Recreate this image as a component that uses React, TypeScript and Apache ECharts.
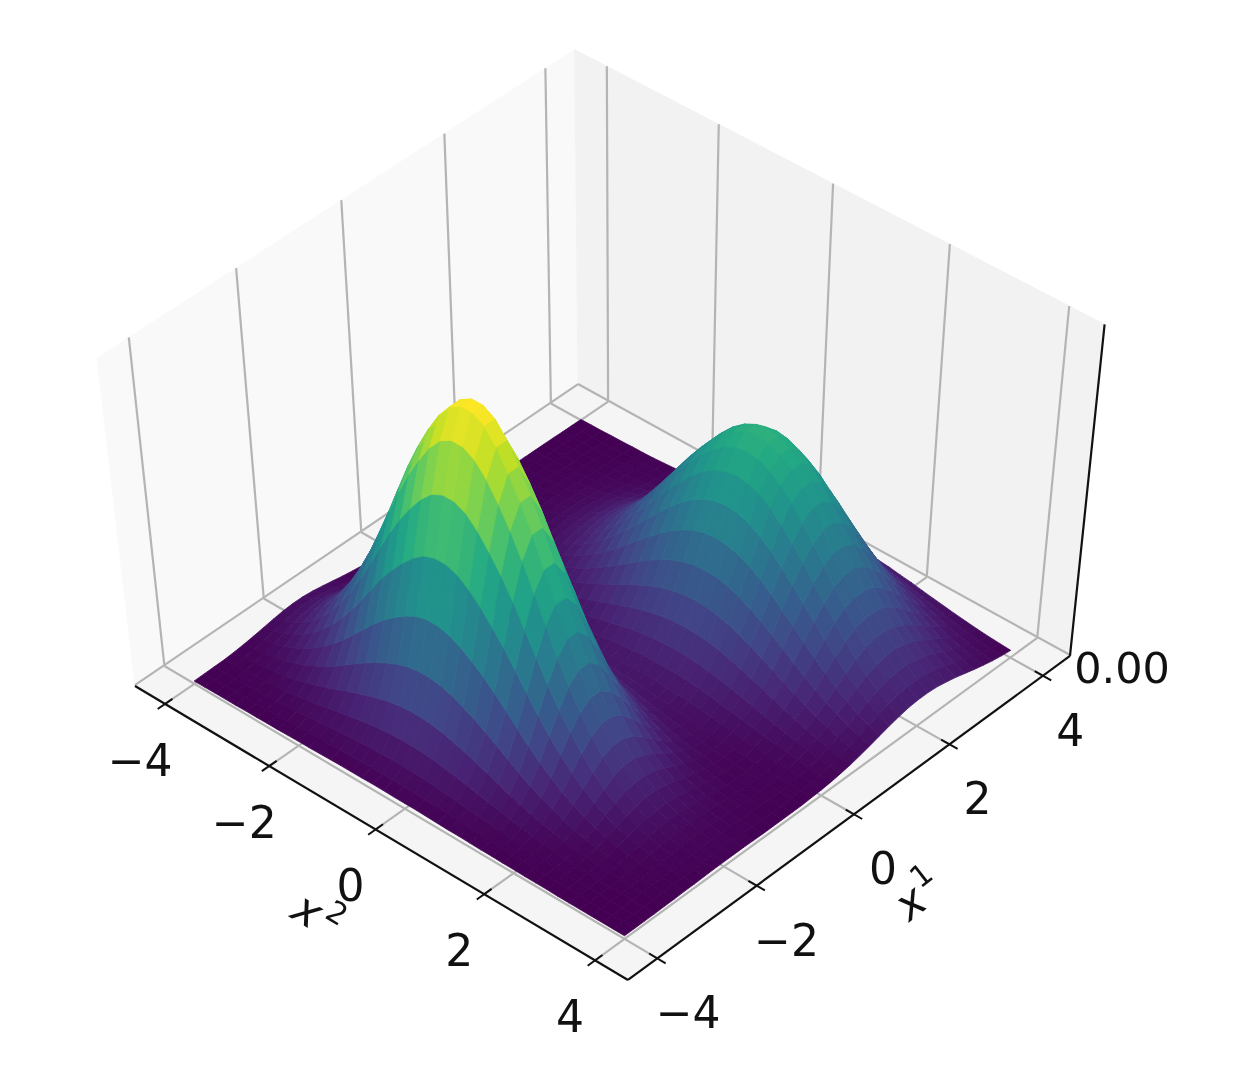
import React, { useEffect, useRef } from "react";
import * as echarts from "echarts";

// Axis contents
const tickValues = [-4, -2, 0, 2, 4];
const zTickLabel = "0.00";
const axisTitleX1 = "x";
const axisSubX1 = "1";
const axisTitleX2 = "x";
const axisSubX2 = "2";

// Surface sampling: x1 and x2 both start at gridStart and advance by gridStep.
const gridStart = -4;
const gridStep = 0.2;
const zTop = 100;

// Heights, in percent of the tallest peak. One row per x1, one column per x2.
const surfaceRows = [
[0,0,.1,.1,.1,.2,.2,.3,.3,.4,.5,.5,.6,.7,.8,.8,.8,.9,.9,.8,.8,.8,.7,.6,.5,.5,.4,.3,.3,.2,.2,.1,.1,.1,0,0,0,0,0,0,0],
[.1,.1,.1,.2,.3,.4,.5,.6,.8,.9,1.1,1.3,1.5,1.6,1.8,1.9,2,2,2,2,1.9,1.8,1.6,1.5,1.3,1.1,.9,.8,.6,.5,.4,.3,.2,.1,.1,.1,.1,0,0,0,0],
[.2,.2,.3,.4,.6,.8,1,1.3,1.7,2,2.4,2.8,3.2,3.6,3.9,4.2,4.4,4.5,4.5,4.4,4.2,3.9,3.6,3.2,2.8,2.4,2,1.7,1.3,1,.8,.6,.4,.3,.2,.2,.1,.1,0,0,0],
[.3,.4,.6,.9,1.2,1.6,2.1,2.7,3.3,4,4.8,5.6,6.4,7.1,7.8,8.3,8.7,8.9,8.9,8.7,8.3,7.8,7.1,6.4,5.6,4.8,4,3.3,2.7,2.1,1.6,1.2,.9,.6,.4,.3,.2,.1,.1,.1,0],
[.6,.8,1.2,1.6,2.2,2.9,3.8,4.9,6,7.3,8.8,10.3,11.7,13,14.2,15.2,15.9,16.3,16.3,15.9,15.2,14.2,13,11.7,10.3,8.8,7.3,6,4.9,3.8,2.9,2.2,1.6,1.2,.8,.6,.4,.3,.2,.1,.1],
[1,1.4,1.9,2.7,3.7,4.9,6.4,8.2,10.1,12.3,14.8,17.3,19.7,21.9,23.8,25.5,26.7,27.3,27.3,26.7,25.5,23.8,21.9,19.7,17.3,14.8,12.3,10.1,8.2,6.4,4.9,3.7,2.7,1.9,1.4,1,.7,.4,.3,.2,.1],
[1.5,2.1,3,4.2,5.7,7.6,9.9,12.6,15.6,19,22.8,26.6,30.4,33.8,36.7,39.2,41.1,42.1,42.1,41.1,39.2,36.7,33.8,30.4,26.6,22.8,19,15.6,12.6,9.9,7.6,5.7,4.2,3,2.1,1.5,1,.7,.4,.3,.2],
[2.1,3,4.2,6,8.1,10.8,14,17.8,22.1,26.9,32.3,37.7,43.1,47.8,52,55.6,58.3,59.6,59.6,58.3,55.6,52,47.8,43.1,37.7,32.3,26.9,22.1,17.8,14,10.8,8.1,6,4.2,3,2.1,1.4,1,.6,.4,.2],
[2.7,3.9,5.5,7.7,10.4,13.9,18.1,23.1,28.6,34.8,41.8,48.8,55.7,61.9,67.3,72,75.5,77.2,77.2,75.5,72,67.3,61.9,55.7,48.8,41.8,34.8,28.6,23.1,18.1,13.9,10.4,7.7,5.5,3.9,2.7,1.9,1.2,.8,.5,.3],
[3.2,4.6,6.5,9.2,12.4,16.6,21.6,27.4,34.1,41.4,49.7,58,66.3,73.7,80.1,85.7,89.8,91.8,91.8,89.8,85.7,80.1,73.7,66.3,58,49.7,41.4,34.1,27.4,21.6,16.6,12.4,9.2,6.5,4.6,3.2,2.2,1.5,.9,.6,.4],
[3.5,5,7.1,10,13.6,18.1,23.5,29.9,37.2,45.2,54.2,63.3,72.3,80.3,87.3,93.4,97.9,100,100,97.9,93.4,87.3,80.3,72.3,63.3,54.2,45.2,37.2,29.9,23.5,18.1,13.6,10,7.1,5,3.5,2.4,1.6,1,.7,.4],
[3.5,5,7.1,10,13.6,18.1,23.5,29.9,37.2,45.2,54.2,63.3,72.3,80.3,87.3,93.4,97.9,100,100,97.9,93.4,87.3,80.3,72.3,63.3,54.2,45.2,37.2,29.9,23.5,18.1,13.6,10,7.1,5,3.5,2.4,1.6,1,.7,.4],
[3.2,4.6,6.5,9.2,12.4,16.6,21.6,27.4,34.1,41.4,49.7,58,66.3,73.7,80.1,85.7,89.8,91.8,91.8,89.8,85.7,80.1,73.7,66.3,58,49.7,41.4,34.1,27.4,21.6,16.6,12.4,9.2,6.5,4.6,3.2,2.2,1.5,.9,.6,.4],
[2.7,3.9,5.5,7.7,10.4,13.9,18.1,23.1,28.6,34.8,41.8,48.8,55.7,61.9,67.3,72,75.5,77.2,77.2,75.5,72,67.3,61.9,55.7,48.8,41.8,34.8,28.6,23.1,18.1,13.9,10.4,7.7,5.5,3.9,2.7,1.9,1.2,.8,.5,.3],
[2.1,3,4.2,6,8.1,10.8,14,17.8,22.1,26.9,32.3,37.7,43.1,47.8,52,55.6,58.3,59.6,59.6,58.3,55.6,52,47.8,43.1,37.7,32.3,26.9,22.1,17.8,14,10.8,8.1,6,4.2,3,2.1,1.4,1,.6,.4,.2],
[1.5,2.1,3,4.2,5.7,7.6,9.9,12.6,15.6,19,22.8,26.6,30.4,33.8,36.8,39.3,41.2,42.2,42.2,41.3,39.4,36.9,34,30.6,26.8,23,19.2,15.8,12.8,10.1,7.8,5.9,4.4,3.1,2.2,1.6,1.1,.7,.5,.3,.2],
[1,1.4,1.9,2.7,3.7,4.9,6.4,8.2,10.2,12.4,14.9,17.3,19.8,22,24,25.7,26.9,27.6,27.6,27,25.8,24.2,22.3,20.2,17.7,15.3,12.8,10.6,8.6,6.8,5.3,4,3,2.2,1.6,1.1,.8,.6,.4,.3,.2],
[.6,.8,1.2,1.6,2.2,3,3.8,4.9,6.1,7.4,8.9,10.4,11.9,13.3,14.5,15.5,16.3,16.7,16.8,16.5,15.8,14.9,13.8,12.6,11.1,9.7,8.2,6.9,5.7,4.6,3.6,2.8,2.2,1.6,1.2,.9,.7,.5,.3,.2,.2],
[.3,.5,.6,.9,1.2,1.7,2.1,2.7,3.4,4.2,5,5.9,6.8,7.6,8.3,8.9,9.5,9.8,9.9,9.9,9.6,9.1,8.6,8,7.2,6.4,5.6,4.8,4.1,3.5,2.9,2.4,1.9,1.5,1.2,.9,.7,.6,.4,.3,.2],
[.2,.2,.3,.5,.6,.9,1.1,1.5,1.8,2.3,2.7,3.3,3.8,4.3,4.8,5.3,5.7,6,6.2,6.4,6.4,6.3,6.2,5.9,5.6,5.2,4.8,4.4,3.9,3.5,3,2.6,2.2,1.9,1.5,1.3,1,.8,.6,.5,.4],
[.1,.1,.2,.3,.3,.5,.6,.8,1.1,1.3,1.7,2,2.4,2.8,3.3,3.7,4.2,4.6,5,5.4,5.6,5.8,6,6,6,5.8,5.6,5.3,5,4.6,4.1,3.6,3.2,2.7,2.3,1.9,1.6,1.2,1,.7,.6],
[0,.1,.1,.2,.2,.3,.4,.6,.8,1,1.4,1.7,2.1,2.6,3.1,3.7,4.3,5,5.6,6.2,6.8,7.2,7.6,7.9,8,8,7.9,7.6,7.2,6.7,6.1,5.5,4.8,4.2,3.5,2.9,2.4,1.9,1.5,1.2,.9],
[0,.1,.1,.2,.2,.3,.4,.6,.9,1.2,1.5,2,2.5,3.2,3.9,4.8,5.7,6.6,7.6,8.5,9.4,10.2,10.9,11.4,11.7,11.8,11.6,11.3,10.7,10,9.2,8.3,7.3,6.3,5.4,4.5,3.7,3,2.3,1.8,1.4],
[0,.1,.1,.2,.3,.4,.5,.8,1.1,1.5,2,2.6,3.4,4.3,5.4,6.6,7.9,9.3,10.7,12.1,13.4,14.6,15.6,16.4,16.8,17,16.8,16.4,15.6,14.6,13.4,12.1,10.7,9.3,7.9,6.6,5.4,4.3,3.4,2.6,2],
[.1,.1,.2,.2,.4,.5,.8,1.1,1.5,2.1,2.8,3.7,4.7,6,7.5,9.1,10.9,12.8,14.8,16.8,18.6,20.3,21.7,22.7,23.4,23.6,23.4,22.7,21.7,20.3,18.6,16.8,14.8,12.8,10.9,9.1,7.5,6,4.7,3.7,2.8],
[.1,.1,.2,.3,.5,.7,1,1.4,2,2.8,3.7,4.9,6.3,8,9.9,12.1,14.5,17,19.6,22.2,24.7,26.9,28.7,30.1,31,31.3,31,30.1,28.7,26.9,24.7,22.2,19.6,17,14.5,12.1,9.9,8,6.3,4.9,3.7],
[.1,.2,.3,.4,.6,.9,1.3,1.8,2.5,3.5,4.7,6.2,7.9,10.1,12.5,15.3,18.4,21.6,24.9,28.2,31.3,34.1,36.4,38.2,39.3,39.7,39.3,38.2,36.4,34.1,31.3,28.2,24.9,21.6,18.4,15.3,12.5,10.1,7.9,6.2,4.7],
[.1,.2,.3,.5,.7,1.1,1.5,2.2,3.1,4.2,5.7,7.4,9.6,12.2,15.1,18.5,22.2,26.1,30,34,37.7,41.1,44,46.1,47.4,47.9,47.4,46.1,44,41.1,37.7,34,30,26.1,22.2,18.5,15.1,12.2,9.6,7.4,5.7],
[.1,.2,.4,.6,.8,1.2,1.8,2.5,3.5,4.9,6.5,8.6,11,14,17.4,21.3,25.6,30,34.6,39.2,43.5,47.4,50.7,53.2,54.6,55.2,54.6,53.2,50.7,47.4,43.5,39.2,34.6,30,25.6,21.3,17.4,14,11,8.6,6.5],
[.2,.3,.4,.6,.9,1.3,1.9,2.8,3.9,5.3,7.2,9.4,12.1,15.4,19.2,23.4,28.1,33,38.1,43.1,47.8,52.1,55.7,58.5,60.1,60.7,60.1,58.5,55.7,52.1,47.8,43.1,38.1,33,28.1,23.4,19.2,15.4,12.1,9.4,7.2],
[.2,.3,.4,.6,1,1.4,2,2.9,4.1,5.6,7.5,9.9,12.7,16.2,20.1,24.5,29.4,34.6,39.9,45.2,50.1,54.6,58.4,61.2,63,63.6,63,61.2,58.4,54.6,50.1,45.2,39.9,34.6,29.4,24.5,20.1,16.2,12.7,9.9,7.5],
[.2,.3,.4,.6,1,1.4,2,2.9,4.1,5.6,7.5,9.9,12.7,16.2,20.1,24.5,29.4,34.6,39.9,45.2,50.1,54.6,58.4,61.2,63,63.6,63,61.2,58.4,54.6,50.1,45.2,39.9,34.6,29.4,24.5,20.1,16.2,12.7,9.9,7.5],
[.2,.3,.4,.6,.9,1.3,1.9,2.8,3.9,5.3,7.2,9.4,12.1,15.4,19.2,23.4,28.1,33,38.1,43.1,47.8,52.1,55.7,58.5,60.1,60.7,60.1,58.5,55.7,52.1,47.8,43.1,38.1,33,28.1,23.4,19.2,15.4,12.1,9.4,7.2],
[.1,.2,.4,.6,.8,1.2,1.8,2.5,3.5,4.9,6.5,8.6,11,14,17.4,21.3,25.6,30,34.6,39.2,43.5,47.4,50.7,53.2,54.6,55.2,54.6,53.2,50.7,47.4,43.5,39.2,34.6,30,25.6,21.3,17.4,14,11,8.6,6.5],
[.1,.2,.3,.5,.7,1.1,1.5,2.2,3.1,4.2,5.7,7.4,9.6,12.2,15.1,18.5,22.2,26.1,30,34,37.7,41.1,44,46.1,47.4,47.9,47.4,46.1,44,41.1,37.7,34,30,26.1,22.2,18.5,15.1,12.2,9.6,7.4,5.7],
[.1,.2,.3,.4,.6,.9,1.3,1.8,2.5,3.5,4.7,6.2,7.9,10.1,12.5,15.3,18.4,21.6,24.9,28.2,31.3,34.1,36.4,38.2,39.3,39.7,39.3,38.2,36.4,34.1,31.3,28.2,24.9,21.6,18.4,15.3,12.5,10.1,7.9,6.2,4.7],
[.1,.1,.2,.3,.5,.7,1,1.4,2,2.8,3.7,4.9,6.3,8,9.9,12.1,14.5,17,19.6,22.2,24.7,26.9,28.7,30.1,31,31.3,31,30.1,28.7,26.9,24.7,22.2,19.6,17,14.5,12.1,9.9,8,6.3,4.9,3.7],
[.1,.1,.2,.2,.4,.5,.8,1.1,1.5,2.1,2.8,3.7,4.7,6,7.5,9.1,10.9,12.8,14.8,16.8,18.6,20.3,21.7,22.7,23.4,23.6,23.4,22.7,21.7,20.3,18.6,16.8,14.8,12.8,10.9,9.1,7.5,6,4.7,3.7,2.8],
[0,.1,.1,.2,.3,.4,.5,.8,1.1,1.5,2,2.6,3.4,4.3,5.4,6.6,7.9,9.3,10.7,12.1,13.4,14.6,15.6,16.4,16.8,17,16.8,16.4,15.6,14.6,13.4,12.1,10.7,9.3,7.9,6.6,5.4,4.3,3.4,2.6,2],
[0,.1,.1,.1,.2,.3,.4,.5,.7,1,1.4,1.8,2.3,2.9,3.7,4.5,5.4,6.3,7.3,8.2,9.1,10,10.6,11.2,11.5,11.6,11.5,11.2,10.6,10,9.1,8.2,7.3,6.3,5.4,4.5,3.7,2.9,2.3,1.8,1.4],
[0,0,0,.1,.1,.2,.2,.3,.5,.7,.9,1.2,1.5,1.9,2.4,2.9,3.5,4.1,4.7,5.4,5.9,6.5,6.9,7.3,7.5,7.6,7.5,7.3,6.9,6.5,5.9,5.4,4.7,4.1,3.5,2.9,2.4,1.9,1.5,1.2,.9],
];

// Colour ramp
const viridis = ["#440154","#482475","#414487","#355f8d","#2a788e","#21918c","#22a884","#44bf70","#7ad151","#bddf26","#fde725"];

const axisHalfRange = 4.585;
const zFloor = 0.01;
const zSpan = 0.95;
const FONT = '"DejaVu Sans", sans-serif';
const GRID = "#b4b4b4";
const AXIS = "#111111";

type P3 = [number, number, number];

// Perspective of the box: s along x1, t along x2, w upwards, each 0..1
function project(s: number, t: number, w: number): [number, number] {
  const d = 1 + 0.04389 * s - 0.04659 * t - 0.072 * w;
  return [
    (468.4 * s + 463.7 * t - 45 * w + 135) / d,
    (-284.1 * s + 248.3 * t - 353.8 * w + 686) / d,
  ];
}
// The box frame sits a few pixels lower toward the right-hand corner.
function projectFrame(s: number, t: number, w: number): [number, number] {
  const p = project(s, t, w);
  return [p[0], p[1] + 4 * s * t];
}
// The surface sits a few pixels lower toward the back and right-hand corners.
function projectSurface(s: number, t: number, w: number): [number, number] {
  const p = project(s, t, w);
  return [p[0], p[1] + 3 * s * (1 - t) + 2 * s * t];
}
const depthOf = (s: number, t: number, w: number) => 1 + 0.04389 * s - 0.04659 * t - 0.072 * w;
const toUnit = (v: number) => (v + axisHalfRange) / (2 * axisHalfRange);
const heightToW = (z: number) => zFloor + (zSpan * z) / zTop;

function hex(c: string) {
  return [parseInt(c.slice(1, 3), 16), parseInt(c.slice(3, 5), 16), parseInt(c.slice(5, 7), 16)];
}
function colorAt(f: number) {
  const p = Math.max(0, Math.min(1, f)) * (viridis.length - 1);
  const i = Math.min(viridis.length - 2, Math.floor(p));
  const a = hex(viridis[i]);
  const b = hex(viridis[i + 1]);
  const k = p - i;
  return `rgb(${a.map((v, n) => Math.round(v + (b[n] - v) * k)).join(",")})`;
}

// Surface facets, far ones first
type Facet = { corners: P3[]; color: string; depth: number };
const facets: Facet[] = [];
for (let i = 0; i < surfaceRows.length - 1; i++) {
  for (let j = 0; j < surfaceRows[i].length - 1; j++) {
    const ids = [[i, j], [i + 1, j], [i + 1, j + 1], [i, j + 1]];
    const corners = ids.map(([a, b]) => [
      toUnit(gridStart + a * gridStep),
      toUnit(gridStart + b * gridStep),
      heightToW(surfaceRows[a][b]),
    ]) as P3[];
    const mean = ids.reduce((sum, [a, b]) => sum + surfaceRows[a][b], 0) / 4;
    const c = corners.reduce((m, p) => [m[0] + p[0] / 4, m[1] + p[1] / 4, m[2] + p[2] / 4], [0, 0, 0]);
    facets.push({ corners, color: colorAt(mean / zTop), depth: depthOf(c[0], c[1], c[2]) });
  }
}
facets.sort((a, b) => b.depth - a.depth);

const panes: { corners: P3[]; color: string }[] = [
  { corners: [[0, 0, 0], [1, 0, 0], [1, 0, 1], [0, 0, 1]], color: "#f9f9f9" },
  { corners: [[1, 0, 0], [1, 1, 0], [1, 1, 1], [1, 0, 1]], color: "#f2f2f2" },
  { corners: [[0, 0, 0], [0, 1, 0], [1, 1, 0], [1, 0, 0]], color: "#f5f5f5" },
];

type Seg = { a: P3; b: P3; color: string; width: number };
const gridSegs: Seg[] = [];
const axisSegs: Seg[] = [];
const tickLen = 0.016;
tickValues.forEach((v) => {
  const u = toUnit(v);
  gridSegs.push({ a: [u, 1, 0], b: [u, 0, 0], color: GRID, width: 2.2 });
  gridSegs.push({ a: [u, 0, 0], b: [u, 0, 1], color: GRID, width: 2.2 });
  gridSegs.push({ a: [0, u, 0], b: [1, u, 0], color: GRID, width: 2.2 });
  gridSegs.push({ a: [1, u, 0], b: [1, u, 1], color: GRID, width: 2.2 });
  axisSegs.push({ a: [-tickLen, u, 0], b: [tickLen, u, 0], color: AXIS, width: 2 });
  axisSegs.push({ a: [u, 1 - tickLen, 0], b: [u, 1 + tickLen, 0], color: AXIS, width: 2 });
});
gridSegs.push({ a: [0, 0, 0.003], b: [1, 0, 0.003], color: GRID, width: 2.2 });
gridSegs.push({ a: [1, 0, 0.003], b: [1, 1, 0.003], color: GRID, width: 2.2 });
axisSegs.push({ a: [0, 0, 0], b: [0, 1, 0], color: AXIS, width: 2.2 });
axisSegs.push({ a: [0, 1, 0], b: [1, 1, 0], color: AXIS, width: 2.2 });
axisSegs.push({ a: [1, 1, 0], b: [1, 1, 1], color: AXIS, width: 2.2 });

const fmtTick = (v: number) => (v < 0 ? "\u2212" + Math.abs(v) : String(v));
type Lab = { text: string; at: [number, number]; size: number; rot: number; italic?: boolean };
const labels: Lab[] = [];
tickValues.forEach((v) => {
  const u = toUnit(v);
  const p2 = projectFrame(0, u, 0);
  labels.push({ text: fmtTick(v), at: [p2[0] - 25, p2[1] + 56.5], size: 44, rot: 0 });
  const p1 = projectFrame(u, 1, 0);
  labels.push({ text: fmtTick(v), at: [p1[0] + 31 - 4 * u, p1[1] + 54.5], size: 44, rot: 0 });
});
labels.push({ text: zTickLabel, at: [1122, 668], size: 43, rot: 0 });
labels.push({ text: axisTitleX2, at: [308, 910], size: 44, rot: -31, italic: true });
labels.push({ text: axisSubX2, at: [337, 913], size: 30, rot: -31 });
labels.push({ text: axisTitleX1, at: [910, 902], size: 44, rot: 38, italic: true });
labels.push({ text: axisSubX1, at: [921, 875], size: 30, rot: 38 });

export default function App() {
  const ref = useRef<HTMLDivElement>(null);
  useEffect(() => {
    document.body.style.margin = "0";
    document.body.style.background = "#fff";
    const chart = echarts.init(ref.current!, undefined, { renderer: "svg" });
    const polySeries = (
      list: { corners: P3[]; color: string }[],
      z: number,
      proj: (s: number, t: number, w: number) => [number, number],
    ) => ({
      type: "custom",
      coordinateSystem: "cartesian2d",
      silent: true,
      z,
      progressive: 0,
      clip: false,
      encode: { x: 0, y: 1 },
      data: list.map((_, i) => [i, i]),
      renderItem: (params: any, api: any) => {
        const f = list[params.dataIndex];
        return {
          type: "polygon",
          shape: { points: f.corners.map((c) => api.coord(proj(c[0], c[1], c[2]))) },
          style: { fill: f.color, stroke: f.color, lineWidth: 0.8 },
        };
      },
    });
    const segSeries = (list: Seg[], z: number) => ({
      type: "custom",
      coordinateSystem: "cartesian2d",
      silent: true,
      z,
      progressive: 0,
      clip: false,
      encode: { x: 0, y: 1 },
      data: list.map((_, i) => [i, i]),
      renderItem: (params: any, api: any) => {
        const g = list[params.dataIndex];
        const a = api.coord(projectFrame(g.a[0], g.a[1], g.a[2]));
        const b = api.coord(projectFrame(g.b[0], g.b[1], g.b[2]));
        return {
          type: "line",
          shape: { x1: a[0], y1: a[1], x2: b[0], y2: b[1] },
          style: { stroke: g.color, lineWidth: g.width, fill: "none" },
        };
      },
    });
    chart.setOption({
      animation: false,
      backgroundColor: "#ffffff",
      grid: { left: 0, right: 0, top: 0, bottom: 0 },
      xAxis: { type: "value", min: 0, max: 1244, show: false },
      yAxis: { type: "value", min: 0, max: 1077, inverse: true, show: false },
      series: [
        polySeries(panes, 1, projectFrame),
        segSeries(gridSegs, 2),
        segSeries(axisSegs, 3),
        polySeries(facets, 4, projectSurface),
        {
          type: "custom",
          coordinateSystem: "cartesian2d",
          silent: true,
          z: 5,
          clip: false,
          encode: { x: 0, y: 1 },
          data: labels.map((_, i) => [i, i]),
          renderItem: (params: any, api: any) => {
            const l = labels[params.dataIndex];
            const c = api.coord(l.at);
            return {
              type: "text",
              x: c[0],
              y: c[1],
              rotation: (l.rot * Math.PI) / 180,
              style: {
                text: l.text,
                fill: "#111111",
                font: `${l.italic ? "italic " : ""}${l.size}px ${FONT}`,
                align: "center",
                verticalAlign: "middle",
              },
            };
          },
        },
      ],
    });
    return () => chart.dispose();
  }, []);
  return <div ref={ref} style={{ width: 1244, height: 1077, overflow: "hidden", filter: "blur(0.6px)" }} />;
}
